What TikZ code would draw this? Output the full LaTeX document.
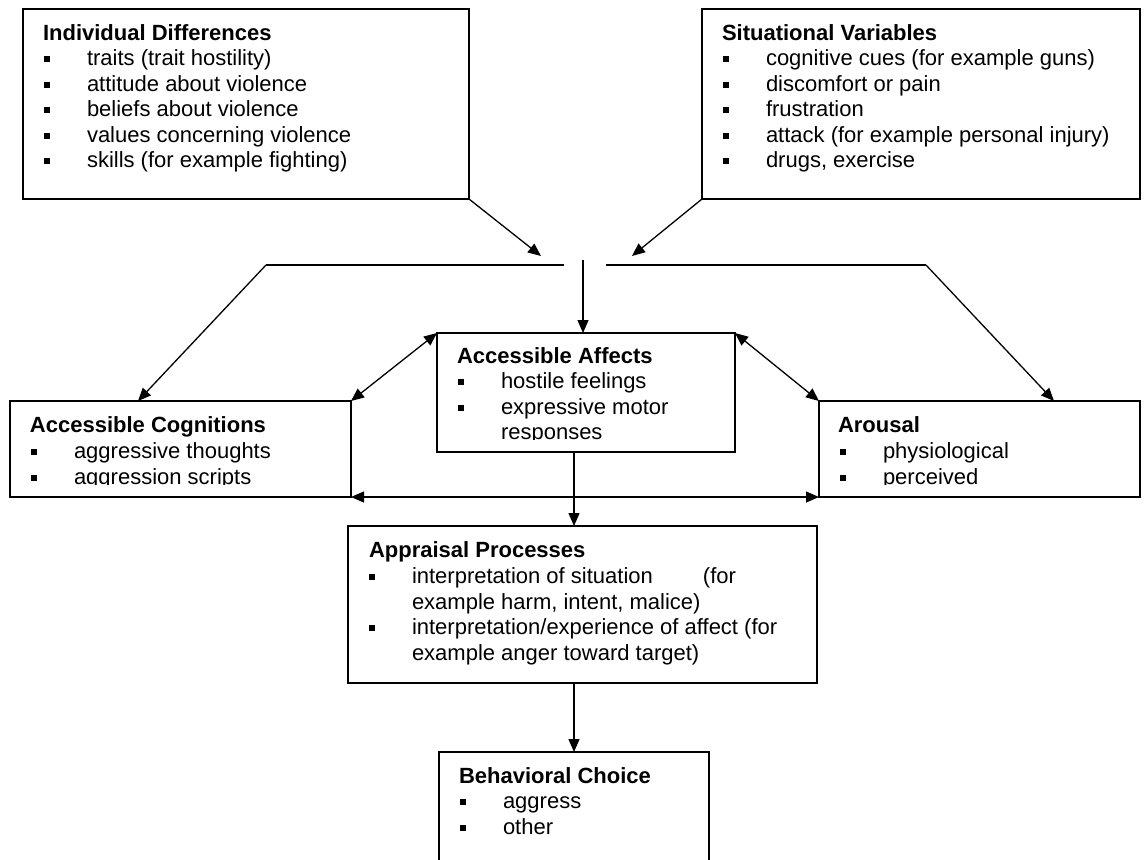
\documentclass[tikz,border=0pt]{standalone}
\usepackage{fontspec}
\setmainfont{Liberation Sans}
\usetikzlibrary{arrows.meta}
\newcommand\bitem[4]{%
  \node[bul] (#1b) at (#2+24,#3-6.5) {};
  \node[txt] (#1) at (#2+64,#3) {#4};}
\begin{document}
\begin{tikzpicture}[x=1pt,y=-1pt,
  box/.style={draw, line width=1.3pt, inner sep=0pt, outer sep=0pt, anchor=north west},
  txt/.style={inner sep=0pt, outer sep=0pt, anchor=base west, font=\fontsize{22}{25.5}\selectfont},
  ttl/.style={txt, font=\fontsize{22}{25.5}\selectfont\bfseries},
  bul/.style={fill=black, inner sep=0pt, outer sep=0pt, minimum size=6pt},
  link/.style={line width=1.3pt},
  arr/.style={link, -{Triangle[length=13pt,width=11pt]}},
  darr/.style={link, {Triangle[length=13pt,width=11pt]}-{Triangle[length=13pt,width=11pt]}}]
\fill[white] (0,0) rectangle (1144,860);
\useasboundingbox (0,0) rectangle (1144,860);

% boxes
\node[box, minimum width=446pt, minimum height=190pt] (id) at (23,9) {};
\node[box, minimum width=438pt, minimum height=190pt] (sv) at (702,9) {};
\node[box, minimum width=341pt, minimum height=96pt] (ac) at (10,401) {};
\node[box, minimum width=298pt, minimum height=119pt] (aa) at (437,333) {};
\node[box, minimum width=321pt, minimum height=96pt] (ar) at (819,401) {};
\node[box, minimum width=469pt, minimum height=157pt] (ap) at (348,526) {};
\node[box, minimum width=270pt, minimum height=130pt] (bc) at (439,752) {};

% Individual Differences
\node[ttl] (idT) at (43,40) {Individual Differences};
\bitem{id1}{23}{65.5}{traits (trait hostility)}
\bitem{id2}{23}{91}{attitude about violence}
\bitem{id3}{23}{116.5}{beliefs about violence}
\bitem{id4}{23}{142}{values concerning violence}
\bitem{id5}{23}{167.5}{skills (for example fighting)}

% Situational Variables
\node[ttl] (svT) at (722,40) {Situational Variables};
\bitem{sv1}{702}{65.5}{cognitive cues (for example guns)}
\bitem{sv2}{702}{91}{discomfort or pain}
\bitem{sv3}{702}{116.5}{frustration}
\bitem{sv4}{702}{142}{attack (for example personal injury)}
\bitem{sv5}{702}{167.5}{drugs, exercise}

% Accessible Affects
\begin{scope}
\clip (437,333) rectangle (735,439);
\node[ttl] (aaT) at (457,363) {Accessible Affects};
\bitem{aa1}{437}{388.5}{hostile feelings}
\bitem{aa2}{437}{414}{expressive motor}
\node[txt] (aa3) at (501,439.5) {responses};
\end{scope}

% Accessible Cognitions
\begin{scope}
\clip (10,401) rectangle (351,484.5);
\node[ttl] (acT) at (30,432) {Accessible Cognitions};
\bitem{ac1}{10}{458}{aggressive thoughts}
\bitem{ac2}{10}{484}{aggression scripts}
\end{scope}

% Arousal
\begin{scope}
\clip (819,401) rectangle (1140,484.5);
\node[ttl] (arT) at (838,432) {Arousal};
\bitem{ar1}{819}{458}{physiological}
\bitem{ar2}{819}{484}{perceived}
\end{scope}

% Appraisal Processes
\node[ttl] (apT) at (369,557) {Appraisal Processes};
\bitem{ap1}{348}{583}{\makebox[324pt][l]{interpretation of situation\hfill(for}}
\node[txt] (ap1c) at (412,609) {example harm, intent, malice)};
\bitem{ap2}{348}{634}{interpretation/experience of affect (for}
\node[txt] (ap2c) at (412,660) {example anger toward target)};

% Behavioral Choice
\node[ttl] (bcT) at (459,783) {Behavioral Choice};
\bitem{bc1}{439}{808.5}{aggress}
\bitem{bc2}{439}{834}{other}

% junction coordinates
\coordinate (jl) at (266,265);
\coordinate (jlend) at (564,265);
\coordinate (jr) at (606,265);
\coordinate (jrend) at (926,265);
\coordinate (jtop) at (583,260);
\coordinate (tipL) at (541,256);
\coordinate (tipR) at (632,256);
\coordinate (acin) at (138,401);
\coordinate (arin) at (1054,401);
\coordinate (cx) at (574,0);

% connectors
\draw[arr] (id.south east) -- (tipL);
\draw[arr] (sv.south west) -- (tipR);
\draw[link] (jlend) -- (jl);
\draw[arr] (jl) -- (acin);
\draw[link] (jr) -- (jrend);
\draw[arr] (jrend) -- (arin);
\draw[arr] (jtop) -- (jtop |- aa.north);
\draw[darr] (ac.north east) -- (aa.north west);
\draw[darr] (aa.north east) -- (ar.north west);
\draw[darr] (ac.south east) -- (ar.south west);
\draw[arr] (cx |- aa.south) -- (cx |- ap.north);
\draw[arr] (cx |- ap.south) -- (cx |- bc.north);
\end{tikzpicture}
\end{document}
